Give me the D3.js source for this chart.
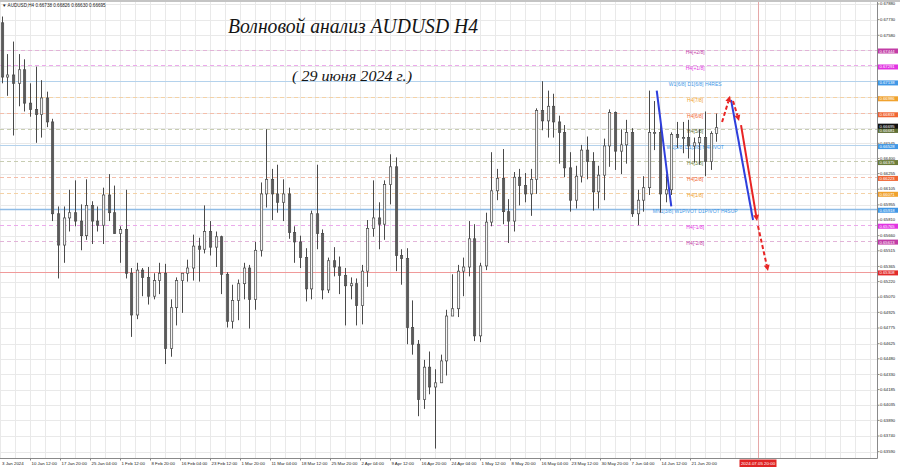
<!DOCTYPE html>
<html><head><meta charset="utf-8">
<script src="https://cdn.jsdelivr.net/npm/d3@7/dist/d3.min.js"></script>
<style>body{margin:0;background:#fff;}svg{display:block;}</style>
</head><body>
<svg id="c" width="900" height="468"></svg>
<script>
// ---------- DATA ----------
const firstTradingDay = "2024-01-03";
const firstOpen = 0.6770;
const highs = [0.6776,0.6740,0.6752,0.6740,0.6735,0.6712,0.6728,0.6715,0.6704,0.6678,
0.6594,0.6594,0.6610,0.6619,0.6596,0.6620,0.6599,0.6594,0.6612,0.6625,
0.6614,0.6575,0.6610,0.6535,0.6540,0.6535,0.6536,0.6530,0.6540,0.6539,
0.6505,0.6526,0.6530,0.6543,0.6567,0.6564,0.6595,0.6580,0.6570,0.6566,
0.6531,0.6519,0.6524,0.6540,0.6538,0.6560,0.6617,0.6668,0.6630,0.6634,
0.6620,0.6612,0.6575,0.6566,0.6554,0.6590,0.6634,0.6572,0.6545,0.6555,
0.6546,0.6535,0.6526,0.6525,0.6538,0.6581,0.6619,0.6598,0.6619,0.6644,
0.6641,0.6553,0.6554,0.6504,0.6466,0.6447,0.6455,0.6438,0.6452,0.6495,
0.6529,0.6538,0.6545,0.6580,0.6577,0.6540,0.6588,0.6646,0.6630,0.6649,
0.6601,0.6627,0.6630,0.6626,0.6630,0.6688,0.6714,0.6705,0.6702,0.6681,
0.6672,0.6646,0.6633,0.6653,0.6661,0.6646,0.6633,0.6659,0.6687,0.6685,
0.6668,0.6677,0.6669,0.6610,0.6623,0.6705,0.6695,0.6679,0.6625,0.6665,
0.6675,0.6675,0.6677,0.6660,0.6668,0.6685,0.6666,0.6683];
const lows = [0.6712,0.6700,0.6662,0.6690,0.6685,0.6680,0.6655,0.6660,0.6670,0.6580,
0.6525,0.6540,0.6570,0.6575,0.6552,0.6562,0.6558,0.6570,0.6558,0.6580,
0.6568,0.6540,0.6525,0.6469,0.6486,0.6508,0.6500,0.6505,0.6510,0.6443,
0.6450,0.6480,0.6492,0.6522,0.6523,0.6522,0.6549,0.6547,0.6536,0.6510,
0.6478,0.6477,0.6485,0.6505,0.6477,0.6495,0.6546,0.6593,0.6581,0.6588,
0.6580,0.6563,0.6540,0.6535,0.6503,0.6505,0.6553,0.6505,0.6511,0.6527,
0.6510,0.6480,0.6505,0.6480,0.6481,0.6517,0.6565,0.6553,0.6562,0.6596,
0.6532,0.6519,0.6462,0.6452,0.6393,0.6400,0.6414,0.6362,0.6425,0.6432,
0.6489,0.6488,0.6508,0.6527,0.6465,0.6464,0.6533,0.6575,0.6600,0.6577,
0.6559,0.6570,0.6595,0.6598,0.6585,0.6606,0.6667,0.6660,0.6660,0.6635,
0.6622,0.6589,0.6592,0.6617,0.6620,0.6590,0.6592,0.6600,0.6632,0.6629,
0.6625,0.6635,0.6584,0.6576,0.6589,0.6605,0.6648,0.6588,0.6598,0.6605,
0.6650,0.6645,0.6640,0.6636,0.6634,0.6623,0.6629,0.6656];
const closes = [0.6718,0.6720,0.6712,0.6725,0.6693,0.6687,0.6682,0.6698,0.6675,0.6587,
0.6557,0.6583,0.6588,0.6580,0.6566,0.6595,0.6580,0.6576,0.6605,0.6588,
0.6568,0.6572,0.6530,0.6490,0.6533,0.6526,0.6508,0.6523,0.6530,0.6458,
0.6497,0.6523,0.6530,0.6535,0.6556,0.6553,0.6570,0.6555,0.6565,0.6529,
0.6484,0.6504,0.6520,0.6535,0.6505,0.6552,0.6606,0.6620,0.6606,0.6598,
0.6606,0.6569,0.6560,0.6545,0.6515,0.6587,0.6568,0.6514,0.6542,0.6536,
0.6528,0.6518,0.6520,0.6499,0.6532,0.6573,0.6583,0.6577,0.6615,0.6632,
0.6547,0.6544,0.6478,0.6462,0.6409,0.6440,0.6421,0.6425,0.6446,0.6489,
0.6496,0.6532,0.6536,0.6563,0.6470,0.6537,0.6579,0.6609,0.6621,0.6589,
0.6580,0.6622,0.6614,0.6606,0.6620,0.6686,0.6676,0.6690,0.6675,0.6665,
0.6631,0.6600,0.6623,0.6648,0.6637,0.6608,0.6624,0.6652,0.6684,0.6647,
0.6653,0.6665,0.6587,0.6600,0.6612,0.6665,0.6665,0.6606,0.6610,0.6663,
0.6660,0.6660,0.6652,0.6655,0.6660,0.6637,0.6664,0.66695];

const yTicks = [0.67880,0.67730,0.67580,0.67435,0.67285,0.67140,0.66990,0.66840,0.66695,0.66545,
0.66400,0.66255,0.66105,0.65955,0.65810,0.65660,0.65515,0.65365,0.65220,0.65070,
0.64925,0.64775,0.64625,0.64480,0.64330,0.64185,0.64035,0.63890,0.63740,0.63590];
const xTickLabels = ["10 Jan 12:00","17 Jan 20:00","25 Jan 04:00","1 Feb 12:00","8 Feb 20:00",
"16 Feb 04:00","23 Feb 12:00","1 Mar 20:00","11 Mar 04:00","18 Mar 12:00","25 Mar 20:00",
"2 Apr 04:00","9 Apr 12:00","16 Apr 20:00","24 Apr 04:00","1 May 12:00","8 May 20:00",
"16 May 04:00","23 May 12:00","30 May 20:00","7 Jun 04:00","14 Jun 12:00","21 Jun 20:00"];
const firstXLabel = "3 Jan 2024";

const levelNames = ["H4[+2/8]","H4[+1/8]","W1[6/8] D1[6/8] H4RES","H4[7/8]","H4[6/8]","H4[5/8]",
"W1[5/8] D1[5/8] H4PIVOT","H4[3/8]","H4[2/8]","H4[1/8]","MN1[3/8] W1PIVOT D1PIVOT H4SUP","H4[-1/8]","H4[-2/8]"];
const levelValues = [0.67444,0.67291,0.67138,0.66986,0.66833,0.66681,0.66528,0.66375,0.66223,0.66071,0.65918,0.65765,0.65613];
const levelColors = ["#c23ca6","#e234e2","#3f97e6","#f0a22e","#f06634","#5f6f35","#3f97e6","#6d7d3a","#f06634","#f0a22e","#3f97e6","#e234e2","#c23ca6"];
const levelLineColors = ["#e2b4d8","#ecaaec","#b4d2ec","#f4d2a6","#f4beaa","#c8cdb2","#b4d2ec","#c8cdb2","#f4beaa","#f4d2a6","#8fbce6","#ecaaec","#e2b4d8"];
const levelSolid = [false,false,true,false,false,false,true,false,false,false,true,false,false];
const levelLabelBar = 742;

const currentPrice = 0.66695;
const redLevel = 0.65308;
const headerText = "AUDUSD,H4  0.66738 0.66826 0.66630 0.66695";
const markerTime = "2024.07.05 20:00";
const markerBar = 809;

const waveBlue = [[[701, 0.6705],[716.5, 0.6594]], [[780.3, 0.6696],[803.7, 0.6581]]];
const redArrows = [
  {pts:[[770.7,0.66749],[779.2,0.67000]], dashed:true},
  {pts:[[782.4,0.66951],[788.8,0.66759]], dashed:true},
  {pts:[[790.9,0.66720],[808.0,0.65801]], dashed:false},
  {pts:[[809.0,0.65753],[819.7,0.65321]], dashed:true}
];
const titleText = "Волновой анализ AUDUSD H4";
const subtitleText = "( 29 июня 2024 г.)";

// ---------- HELPERS ----------
const monthIdx = {Jan:0,Feb:1,Mar:2,Apr:3,May:4,Jun:5,Jul:6};
function tradingDates(start, n){
  const out=[]; let d=new Date(start+"T00:00:00Z");
  while(out.length<n){ const wd=d.getUTCDay(); if(wd!==0&&wd!==6) out.push(new Date(d)); d=new Date(d.getTime()+86400000); }
  return out;
}
const days = tradingDates(firstTradingDay, closes.length);
function barIndexOf(label){ // "10 Jan 12:00"
  const [dd,mon,hm]=label.split(" ");
  const dt=Date.UTC(2024,monthIdx[mon],+dd);
  const di=days.findIndex(x=>x.getTime()===dt);
  return di*6 + (+hm.split(":")[0])/4;
}

// ---------- SCALES ----------
const svg = d3.select("#c");
const plotRight = 877.5, plotBottom = 458.5;
const x = d3.scaleLinear().domain([0, 937]).range([-0.5, 878]);
const y = d3.scaleLinear().domain([0.63590, 0.67880]).range([451.7, 4]);
const FONT = "Liberation Sans, Arial, sans-serif";

svg.append("rect").attr("width",900).attr("height",468).attr("fill","#fff");

// grid
const g = svg.append("g");
g.selectAll("line.vg").data(d3.range(1, 937, 16)).enter().append("line")
  .attr("x1",d=>Math.round(x(d))+0.5).attr("x2",d=>Math.round(x(d))+0.5)
  .attr("y1",2).attr("y2",plotBottom).attr("stroke","#e9e9e9").attr("stroke-width",1);
g.selectAll("line.hg").data(yTicks).enter().append("line")
  .attr("x1",0).attr("x2",plotRight).attr("y1",d=>Math.round(y(d))+0.5).attr("y2",d=>Math.round(y(d))+0.5)
  .attr("stroke","#e9e9e9").attr("stroke-width",1);

// level lines
const lv = svg.append("g");
levelValues.forEach((v,i)=>{
  lv.append("line").attr("x1",0).attr("x2",plotRight)
    .attr("y1",Math.round(y(v))+0.5).attr("y2",Math.round(y(v))+0.5)
    .attr("stroke",levelLineColors[i]).attr("stroke-width", i===10?1.6:1)
    .attr("stroke-dasharray", levelSolid[i]?null:"4,3");
  lv.append("text").attr("x",x(levelLabelBar)).attr("y",y(v)+4.3)
    .attr("text-anchor","middle").attr("font-family",FONT).attr("font-size",5)
    .attr("fill",levelColors[i]).text(levelNames[i]);
});
lv.append("line").attr("x1",0).attr("x2",plotRight)
  .attr("y1",Math.round(y(redLevel))+0.5).attr("y2",Math.round(y(redLevel))+0.5)
  .attr("stroke","#f09a9a").attr("stroke-width",1);
lv.append("line").attr("x1",Math.round(x(markerBar))+0.5).attr("x2",Math.round(x(markerBar))+0.5)
  .attr("y1",2).attr("y2",plotBottom).attr("stroke","#e6a8a8").attr("stroke-width",1);

// candles
const cg = svg.append("g");
const data = closes.map((c,i)=>({i, o: i===0?firstOpen:closes[i-1], h:highs[i], l:lows[i], c}));
const cx = d => x(d.i*6+2.5);
cg.selectAll("line.w").data(data).enter().append("line")
  .attr("x1",d=>Math.round(cx(d))+0.5).attr("x2",d=>Math.round(cx(d))+0.5)
  .attr("y1",d=>y(d.h)).attr("y2",d=>y(d.l)).attr("stroke","#4a4a4a").attr("stroke-width",1);
cg.selectAll("rect.b").data(data).enter().append("rect")
  .attr("x",d=>Math.round(cx(d))-0.5).attr("width",2.2)
  .attr("y",d=>y(Math.max(d.o,d.c))).attr("height",d=>Math.max(1,Math.abs(y(d.o)-y(d.c))))
  .attr("fill",d=>d.c>=d.o?"#f4f4f4":"#5a5a5a").attr("stroke","#4a4a4a").attr("stroke-width",0.7);

// wave annotations
const an = svg.append("g");
const line = d3.line().x(d=>x(d[0])).y(d=>y(d[1]));
waveBlue.forEach(p=>an.append("path").attr("d",line(p)).attr("stroke","#2f3fdc").attr("stroke-width",2).attr("fill","none"));
redArrows.forEach(a=>{
  const p0=[x(a.pts[0][0]),y(a.pts[0][1])], p1=[x(a.pts[1][0]),y(a.pts[1][1])];
  const ang=Math.atan2(p1[1]-p0[1],p1[0]-p0[0]);
  const L=6, W=3;
  const bx=p1[0]-L*Math.cos(ang), by=p1[1]-L*Math.sin(ang);
  an.append("line").attr("x1",p0[0]).attr("y1",p0[1]).attr("x2",bx).attr("y2",by)
    .attr("stroke","#e82424").attr("stroke-width",2).attr("stroke-dasharray",a.dashed?"4,2.5":null);
  const pts=[p1,[bx+W*Math.sin(ang),by-W*Math.cos(ang)],[bx-W*Math.sin(ang),by+W*Math.cos(ang)]];
  an.append("polygon").attr("points",pts.map(p=>p.join(",")).join(" ")).attr("fill","#e82424");
});

// titles
svg.append("text").attr("x",228).attr("y",33).attr("font-family","Liberation Serif, serif")
  .attr("font-style","italic").attr("font-size",21).attr("fill","#141414")
  .attr("textLength",250).attr("lengthAdjust","spacingAndGlyphs").text(titleText);
svg.append("text").attr("x",292).attr("y",81).attr("font-family","Liberation Serif, serif")
  .attr("font-style","italic").attr("font-size",15).attr("fill","#141414")
  .attr("textLength",120).attr("lengthAdjust","spacingAndGlyphs").text(subtitleText);

// frame / axes
svg.append("rect").attr("x",0).attr("y",0).attr("width",900).attr("height",2).attr("fill","#c4c4c4");
svg.append("line").attr("x1",plotRight).attr("x2",plotRight).attr("y1",2).attr("y2",plotBottom).attr("stroke","#8a8a8a");
svg.append("line").attr("x1",0).attr("x2",plotRight).attr("y1",plotBottom).attr("y2",plotBottom).attr("stroke","#8a8a8a");

// header
svg.append("text").attr("x",2).attr("y",6.5).attr("font-family",FONT).attr("font-size",4.6).attr("fill","#222").text("▼ "+headerText);

// price box positions (used to hide fully covered tick labels)
const boxes = levelValues.map((v,i)=>({v, color:levelColors[i], dy: i===5?1.3:1.5}))
  .concat([{v:redLevel,color:"#e22a2a",dy:0.5},{v:currentPrice,color:"#111111",dy:-1.5}]);
const boxCenters = boxes.map(b=>y(b.v)+b.dy);
const visibleTicks = yTicks.filter(t=>boxCenters.every(c=>Math.abs(c-y(t))>2.6));

// y axis
const ya = svg.append("g");
ya.selectAll("line").data(yTicks).enter().append("line")
  .attr("x1",plotRight).attr("x2",plotRight+2).attr("y1",d=>y(d)).attr("y2",d=>y(d)).attr("stroke","#8a8a8a");
ya.selectAll("text").data(visibleTicks).enter().append("text")
  .attr("x",880).attr("y",d=>y(d)+1.2).attr("font-family",FONT).attr("font-size",4.2).attr("fill","#222")
  .text(d=>d.toFixed(5));

function priceBox(b){
  const cyv = y(b.v)+b.dy;
  svg.append("rect").attr("x",878).attr("y",cyv-2.5).attr("width",20).attr("height",5).attr("fill",b.color);
  svg.append("text").attr("x",879.5).attr("y",cyv+1.5).attr("font-family",FONT).attr("font-size",4.2)
    .attr("fill","#fff").text(b.v.toFixed(5));
}
// draw order: level boxes, then olive 5/8 box, then current price on top
boxes.filter((b,i)=>i!==5 && i<13).forEach(priceBox);
priceBox(boxes[13]);
priceBox(boxes[5]);
priceBox(boxes[14]);

// x axis labels
const xa = svg.append("g");
xa.append("text").attr("x",2).attr("y",465).attr("font-family",FONT).attr("font-size",4.4).attr("fill","#222").text(firstXLabel);
xa.selectAll("text.t").data(xTickLabels).enter().append("text")
  .attr("x",d=>x(barIndexOf(d))+1).attr("y",465).attr("font-family",FONT).attr("font-size",4.4).attr("fill","#222")
  .text(d=>d);
xa.selectAll("line.t").data(xTickLabels).enter().append("line")
  .attr("x1",d=>Math.round(x(barIndexOf(d)))+0.5).attr("x2",d=>Math.round(x(barIndexOf(d)))+0.5)
  .attr("y1",plotBottom).attr("y2",plotBottom+2).attr("stroke","#8a8a8a");
const mx = x(markerBar);
xa.append("rect").attr("x",mx-18.5).attr("y",459.5).attr("width",37).attr("height",7.5).attr("fill","#e02424");
xa.append("text").attr("x",mx).attr("y",465).attr("text-anchor","middle").attr("font-family",FONT)
  .attr("font-size",4.4).attr("fill","#fff").text(markerTime);
</script>
</body></html>
